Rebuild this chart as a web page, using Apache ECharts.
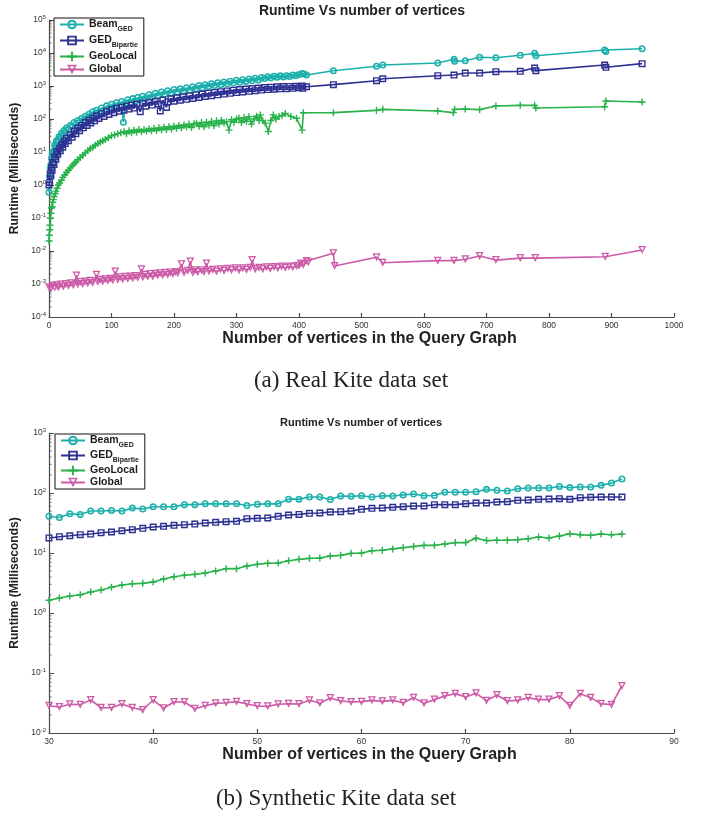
<!DOCTYPE html>
<html>
<head>
<meta charset="utf-8">
<title>Runtime Vs number of vertices</title>
<script src="https://cdn.jsdelivr.net/npm/echarts@6/dist/echarts.min.js"></script>
<style>
  html, body { margin: 0; padding: 0; background: #fff; }
  #chart { width: 703px; height: 818px; }
</style>
</head>
<body>
<div id="chart"></div>
<script>
// series names, "_" marks the subscript part in the legend
const seriesNames = ['Beam_GED', 'GED_Bipartie', 'GeoLocal', 'Global']
const seriesColors = ['#1bb0ac', '#2e3192', '#27b24a', '#cc5aa7']

// (a) real Kite data set: [vertices, runtime ms]
const realBeam = [
  [0, 0.6], [1, 1.8], [2, 3.2], [3, 4.2], [4, 6.5], [5, 7], [6, 10], [8, 11], [9, 16], [11, 16],
  [12, 22], [14, 21], [16, 29], [18, 27], [20, 37], [22, 33], [24, 45], [26, 40], [28, 53], [31, 47],
  [34, 64], [37, 58], [40, 78], [43, 68], [46, 90], [49, 80], [52, 104], [55, 92], [58, 122], [61, 105],
  [64, 140], [67, 122], [70, 165], [73, 140], [76, 185], [80, 160], [84, 215], [88, 185], [92, 250], [96, 210],
  [100, 280], [104, 235], [108, 310], [112, 260], [116, 340], [119, 80], [122, 300], [126, 385], [130, 320], [134, 415],
  [138, 350], [142, 450], [146, 380], [150, 490], [155, 420], [160, 540], [165, 460], [170, 600], [175, 510], [180, 660],
  [185, 560], [190, 720], [195, 610], [200, 780], [205, 660], [210, 820], [215, 700], [220, 880], [225, 760], [230, 950],
  [235, 820], [240, 1030], [245, 890], [250, 1100], [255, 960], [260, 1180], [265, 1030], [270, 1250], [275, 1100], [280, 1330],
  [285, 1160], [290, 1400], [295, 1230], [300, 1500], [305, 1300], [310, 1560], [315, 1380], [320, 1640], [325, 1440], [330, 1720],
  [335, 1530], [340, 1820], [345, 1680], [350, 1920], [355, 1780], [360, 1980], [365, 1840], [370, 2030], [375, 1890], [380, 2050],
  [385, 1950], [390, 2150], [395, 2050], [400, 2250], [405, 2400], [408, 2300], [412, 2150], [455, 2900], [524, 3970], [534, 4330],
  [622, 4980], [648, 6430], [649, 5590], [666, 5850], [689, 7400], [715, 7210], [754, 8510], [777, 9780], [779, 8280], [889, 12300],
  [891, 11200], [949, 13500]
]
const realGed = [
  [0, 1.0], [1, 1.2], [2, 2.2], [3, 1.9], [4, 3.4], [5, 2.8], [6, 4.8], [8, 4.2], [9, 7], [11, 6],
  [12, 10], [14, 8.5], [16, 13], [18, 11], [20, 17], [22, 14], [24, 21], [26, 18], [28, 26], [31, 22],
  [34, 34], [37, 28], [40, 43], [43, 36], [46, 53], [49, 44], [52, 64], [55, 54], [58, 78], [61, 64],
  [64, 92], [67, 76], [70, 108], [73, 88], [76, 125], [80, 104], [84, 145], [88, 120], [92, 168], [96, 138],
  [100, 190], [104, 155], [108, 210], [112, 172], [116, 228], [120, 185], [124, 245], [128, 200], [132, 262], [136, 215],
  [140, 280], [146, 167], [150, 300], [155, 245], [160, 320], [165, 265], [170, 345], [175, 285], [178, 175], [182, 375],
  [188, 225], [190, 330], [195, 410], [200, 345], [205, 440], [210, 370], [215, 470], [220, 395], [225, 500], [230, 420],
  [235, 535], [240, 450], [245, 570], [250, 480], [255, 605], [260, 510], [265, 640], [270, 540], [275, 675], [280, 570],
  [285, 710], [290, 600], [295, 745], [300, 630], [305, 780], [310, 660], [315, 810], [320, 690], [325, 840], [330, 720],
  [335, 870], [340, 750], [345, 900], [350, 780], [355, 920], [360, 800], [365, 950], [370, 820], [375, 960], [380, 830],
  [385, 970], [390, 850], [395, 990], [400, 880], [405, 1000], [406, 850], [412, 950], [455, 1100], [524, 1450], [534, 1660],
  [622, 2050], [648, 2150], [666, 2470], [689, 2470], [715, 2720], [754, 2780], [777, 3510], [779, 2920], [889, 4330], [891, 3680],
  [949, 4750]
]
const realGeo = [
  [0, 0.02], [0.5, 0.03], [1, 0.044], [1.5, 0.06], [2, 0.1], [3, 0.14], [4, 0.2], [5, 0.22], [6, 0.3], [7, 0.36],
  [8, 0.45], [10, 0.55], [11, 0.65], [13, 0.8], [15, 1.0], [17, 1.15], [20, 1.4], [22, 1.7], [25, 2.0], [28, 2.4],
  [31, 2.8], [34, 3.3], [37, 3.8], [40, 4.4], [43, 5.0], [46, 5.8], [50, 6.8], [54, 8], [58, 9.4], [62, 11],
  [66, 12.5], [70, 14], [74, 16], [78, 18], [82, 20], [86, 22], [90, 24], [95, 27], [100, 31], [105, 33],
  [110, 36], [115, 38], [120, 41], [124, 36], [128, 44], [132, 38], [136, 46], [140, 40], [144, 48], [148, 41],
  [152, 47], [156, 43], [160, 50], [164, 44], [168, 52], [172, 45], [176, 54], [180, 47], [184, 56], [188, 48],
  [192, 58], [196, 50], [200, 60], [204, 52], [208, 64], [212, 54], [216, 66], [220, 58], [224, 70], [228, 55],
  [232, 72], [236, 74], [240, 60], [244, 78], [248, 58], [252, 80], [256, 65], [260, 85], [264, 62], [268, 88],
  [272, 70], [276, 92], [280, 75], [284, 83], [288, 46], [292, 95], [296, 80], [300, 100], [304, 105], [308, 78],
  [312, 110], [316, 85], [320, 118], [324, 70], [328, 100], [332, 122], [336, 92], [338, 133], [342, 88], [346, 75],
  [351, 42], [355, 90], [359, 133], [363, 100], [368, 120], [373, 128], [378, 148], [387, 120], [396, 105], [405, 46],
  [407, 155], [455, 156], [524, 183], [534, 196], [622, 175], [647, 156], [649, 196], [666, 201], [689, 192], [715, 248],
  [754, 259], [777, 259], [779, 215], [889, 236], [891, 351], [949, 327]
]
const realGlobal = [
  [0, 0.0008], [3, 0.00072], [6, 0.00088], [9, 0.00078], [12, 0.00092], [15, 0.0008], [19, 0.00096], [23, 0.00084], [27, 0.001], [31, 0.00088],
  [35, 0.00105], [39, 0.00092], [44, 0.0018], [46, 0.00098], [50, 0.00115], [54, 0.001], [58, 0.0012], [62, 0.00105], [66, 0.00125], [70, 0.0011],
  [76, 0.0019], [78, 0.00115], [82, 0.00135], [86, 0.0012], [90, 0.0014], [94, 0.00125], [98, 0.00145], [102, 0.0013], [106, 0.0024], [110, 0.00135],
  [114, 0.0016], [118, 0.0014], [122, 0.00165], [126, 0.00145], [130, 0.0017], [134, 0.0015], [138, 0.00175], [142, 0.00155], [148, 0.0028], [150, 0.0016],
  [154, 0.0019], [158, 0.00165], [162, 0.002], [166, 0.0017], [170, 0.00205], [174, 0.0018], [178, 0.0021], [182, 0.00185], [186, 0.0022], [190, 0.0019],
  [194, 0.00225], [198, 0.002], [202, 0.0023], [206, 0.0021], [212, 0.004], [216, 0.0022], [222, 0.0025], [226, 0.0048], [230, 0.0022], [234, 0.0026],
  [238, 0.0023], [244, 0.0026], [248, 0.0023], [252, 0.0042], [256, 0.0024], [262, 0.0027], [268, 0.0024], [274, 0.0028], [280, 0.0025], [286, 0.0029],
  [292, 0.0026], [298, 0.003], [304, 0.0026], [310, 0.003], [316, 0.0027], [322, 0.0031], [325, 0.0053], [330, 0.0028], [336, 0.0031], [342, 0.0028],
  [348, 0.0032], [354, 0.0029], [360, 0.0033], [366, 0.003], [372, 0.0034], [378, 0.0031], [384, 0.0034], [390, 0.0032], [396, 0.0035], [400, 0.0036],
  [403, 0.0042], [407, 0.0038], [412, 0.005], [415, 0.0046], [455, 0.0085], [457, 0.0035], [524, 0.0065], [534, 0.0044], [622, 0.0051], [648, 0.0051],
  [666, 0.0056], [689, 0.0071], [715, 0.0053], [754, 0.0061], [778, 0.0061], [890, 0.0067], [949, 0.0107]
]

// (b) synthetic Kite data set
const synthX = [30, 31, 32, 33, 34, 35, 36, 37, 38, 39, 40, 41, 42, 43, 44, 45, 46, 47, 48, 49,
  50, 51, 52, 53, 54, 55, 56, 57, 58, 59, 60, 61, 62, 63, 64, 65, 66, 67, 68, 69,
  70, 71, 72, 73, 74, 75, 76, 77, 78, 79, 80, 81, 82, 83, 84, 85]
const synthBeam = [41, 39, 45, 44, 50, 50, 51, 50, 56, 54, 59, 59, 59, 64, 64, 66, 66, 66, 66, 62,
  65, 66, 66, 79, 79, 86, 86, 78, 89, 88, 90, 86, 90, 89, 93, 96, 90, 91, 103, 103,
  103, 105, 115, 111, 108, 118, 121, 121, 121, 128, 123, 126, 126, 134, 147, 171]
const synthGed = [17.8, 18.7, 19.4, 20.2, 20.7, 21.8, 22.4, 23.5, 24.5, 25.8, 27.1, 27.8, 28.9, 29.6, 30.4, 31.6, 32.4, 33.3, 33.7, 37.3,
  37.8, 38.3, 40.9, 43, 44, 45.9, 46.4, 48.2, 48.8, 50.1, 53.5, 55.5, 56.2, 57.7, 59.2, 60.7, 60.7, 63.9, 63.9, 63.9,
  66.4, 68.1, 68.1, 70.8, 71.7, 75.5, 76.4, 78.4, 79.4, 80.5, 78.4, 83.5, 84.7, 85.8, 85.8, 85.8]
const synthGeo = [1.63, 1.78, 1.92, 2.02, 2.24, 2.42, 2.68, 2.93, 3.08, 3.12, 3.29, 3.69, 4.03, 4.25, 4.41, 4.64, 5.01, 5.48, 5.48, 6.07,
  6.47, 6.73, 6.8, 7.45, 7.84, 8.15, 8.25, 8.91, 9.14, 9.87, 10, 10.9, 11.1, 11.7, 12.3, 12.8, 13.4, 13.4, 14.1, 14.9,
  14.9, 17.6, 16.1, 16.3, 16.3, 16.7, 17.3, 18.5, 17.8, 19.2, 21, 20.2, 19.7, 20.7, 20.2, 20.7]
const synthGlobal = [0.0285, 0.0271, 0.0301, 0.0297, 0.0355, 0.0264, 0.0264, 0.0305, 0.0264, 0.0242, 0.0355, 0.0258, 0.0329, 0.0329, 0.0254, 0.0285, 0.0312, 0.032, 0.0333, 0.0305,
  0.0282, 0.0278, 0.0301, 0.0308, 0.0305, 0.035, 0.0312, 0.0383, 0.0341, 0.033, 0.0333, 0.035, 0.0337, 0.035, 0.032, 0.0388, 0.0312, 0.036, 0.0414, 0.0453,
  0.0398, 0.0458, 0.0346, 0.043, 0.0341, 0.035, 0.0388, 0.036, 0.036, 0.0414, 0.0285, 0.0453, 0.0388, 0.0308, 0.0297, 0.0607]

const FONT = 'Liberation Sans, Arial, sans-serif'
const AXIS_COLOR = '#4a4a4a'
const LABEL_COLOR = '#333'

// hollow MATLAB style markers
const symbols = [
  'path://M0,5A5,5 0 1,1 10,5A5,5 0 1,1 0,5Z M2.2,5A2.8,2.8 0 1,0 7.8,5A2.8,2.8 0 1,0 2.2,5Z',
  'path://M0,0H10V10H0Z M2,2V8H8V2Z',
  'path://M4,0H6V4H10V6H6V10H4V6H0V4H4Z',
  'path://M0,0L10,0L5,9Z M2.6,1.4L5,5.9L7.4,1.4Z',
]
const symbolSizes = [7, 7, 7, 8]

// minor tick values of a log axis: 2..9 x 10^e
function minorTickValues(fromExp, toExp) {
  const out = []
  for (let e = fromExp; e < toExp; e++) {
    for (let k = 2; k <= 9; k++) out.push(k * Math.pow(10, e))
  }
  return out
}

function xAxisFor(gridIndex, min, max, interval) {
  return {
    type: 'value',
    gridIndex,
    min,
    max,
    interval,
    name: 'Number of vertices in the Query Graph',
    nameLocation: 'middle',
    nameGap: 12,
    nameTextStyle: { fontFamily: FONT, fontSize: 16, fontWeight: 'bold', color: '#222', padding: [0, 0, 0, 16] },
    axisLine: { show: true, onZero: false, lineStyle: { color: AXIS_COLOR, width: 1.2 } },
    axisTick: { show: true, inside: true, length: 4, lineStyle: { color: AXIS_COLOR, width: 1.2 } },
    axisLabel: { fontFamily: FONT, fontSize: 8.5, color: LABEL_COLOR, margin: 4, formatter: (v) => String(v) },
    splitLine: { show: false },
  }
}

function yAxisFor(gridIndex, min, max, splitNumber) {
  return {
    type: 'log',
    logBase: 10,
    gridIndex,
    min,
    max,
    splitNumber,
    position: 'left',
    name: 'Runtime (Milliseconds)',
    nameLocation: 'middle',
    nameGap: 21,
    nameRotate: 90,
    nameTextStyle: { fontFamily: FONT, fontSize: 12, fontWeight: 'bold', color: '#222' },
    axisLine: { show: true, lineStyle: { color: AXIS_COLOR, width: 1.2 } },
    axisTick: { show: true, inside: true, length: 5, lineStyle: { color: AXIS_COLOR, width: 1 } },
    axisLabel: {
      margin: 3,
      formatter: (v) => '{b|10}{e|' + Math.round(Math.log10(v)) + '}',
      rich: {
        b: { fontFamily: FONT, fontSize: 8.5, color: LABEL_COLOR },
        e: { fontFamily: FONT, fontSize: 6, color: LABEL_COLOR, padding: [0, 0, 6, 0] },
      },
    },
    splitLine: { show: false },
  }
}

// short inward ticks on the y axis at the log minor positions
function minorTickSeries(xAxisIndex, yAxisIndex, xMin, values) {
  return {
    type: 'custom',
    name: 'minorTicks',
    xAxisIndex,
    yAxisIndex,
    silent: true,
    clip: false,
    data: values.map((v) => [xMin, v]),
    renderItem: (params, api) => {
      const p = api.coord([api.value(0), api.value(1)])
      return {
        type: 'line',
        shape: { x1: p[0], y1: p[1], x2: p[0] + 2.5, y2: p[1] },
        style: { stroke: AXIS_COLOR, lineWidth: 0.8 },
      }
    },
    z: 1,
  }
}

function makeSeries(i, data, xAxisIndex, yAxisIndex) {
  return {
    type: 'line',
    name: seriesNames[i],
    xAxisIndex,
    yAxisIndex,
    data,
    symbol: symbols[i],
    symbolSize: symbolSizes[i],
    showSymbol: true,
    lineStyle: { color: seriesColors[i], width: 1.6 },
    itemStyle: { color: seriesColors[i], borderWidth: 0 },
    emphasis: { disabled: true },
  }
}

function legendFor(left, top, itemGap) {
  return {
    left,
    top,
    orient: 'vertical',
    data: seriesNames,
    selectedMode: false,
    itemGap,
    itemWidth: 24,
    itemHeight: 12,
    padding: [1, 6, 1, 5],
    borderColor: '#111',
    borderWidth: 1,
    backgroundColor: '#fff',
    formatter: (name) => {
      const [main, sub] = name.split('_')
      return sub ? '{m|' + main + '}{s|' + sub + '}' : '{m|' + main + '}'
    },
    textStyle: {
      rich: {
        m: { fontFamily: FONT, fontSize: 10.5, fontWeight: 'bold', color: '#1a1a1a', lineHeight: 12 },
        s: { fontFamily: FONT, fontSize: 7, fontWeight: 'bold', color: '#1a1a1a', padding: [10, 0, 0, 0] },
      },
    },
  }
}

const synthBeamData = synthX.map((x, i) => [x, synthBeam[i]])
const synthGedData = synthX.map((x, i) => [x, synthGed[i]])
const synthGeoData = synthX.map((x, i) => [x, synthGeo[i]])
const synthGlobalData = synthX.map((x, i) => [x, synthGlobal[i]])

const chart = echarts.init(document.getElementById('chart'), null, { renderer: 'canvas' })

const option = {
  animation: false,
  backgroundColor: '#fff',
  grid: [
    { left: 49, top: 20, width: 625, height: 297, outerBoundsMode: 'none', containLabel: false },
    { left: 49, top: 433, width: 625, height: 300, outerBoundsMode: 'none', containLabel: false },
  ],
  xAxis: [xAxisFor(0, 0, 1000, 100), xAxisFor(1, 30, 90, 10)],
  yAxis: [yAxisFor(0, 1e-4, 1e5, 9), yAxisFor(1, 1e-2, 1e3, 5)],
  legend: [legendFor(54, 18, 2), legendFor(55, 434, 1)],
  graphic: [
    { type: 'text', x: 362, y: 11, style: { text: 'Runtime Vs number of vertices', font: 'bold 14px ' + FONT, fill: '#222', align: 'center', verticalAlign: 'middle' } },
    { type: 'text', x: 361, y: 423, style: { text: 'Runtime Vs number of vertices', font: 'bold 11px ' + FONT, fill: '#222', align: 'center', verticalAlign: 'middle' } },
    { type: 'text', x: 351, y: 381, style: { text: '(a) Real Kite data set', font: '23px Liberation Serif, Times New Roman, serif', fill: '#222', align: 'center', verticalAlign: 'middle' } },
    { type: 'text', x: 336, y: 799, style: { text: '(b) Synthetic Kite data set', font: '23px Liberation Serif, Times New Roman, serif', fill: '#222', align: 'center', verticalAlign: 'middle' } },
  ],
  series: [
    minorTickSeries(0, 0, 0, minorTickValues(-4, 5)),
    minorTickSeries(1, 1, 30, minorTickValues(-2, 3)),
    makeSeries(0, realBeam, 0, 0),
    makeSeries(1, realGed, 0, 0),
    makeSeries(2, realGeo, 0, 0),
    makeSeries(3, realGlobal, 0, 0),
    makeSeries(0, synthBeamData, 1, 1),
    makeSeries(1, synthGedData, 1, 1),
    makeSeries(2, synthGeoData, 1, 1),
    makeSeries(3, synthGlobalData, 1, 1),
  ],
}

chart.setOption(option)
</script>
</body>
</html>
